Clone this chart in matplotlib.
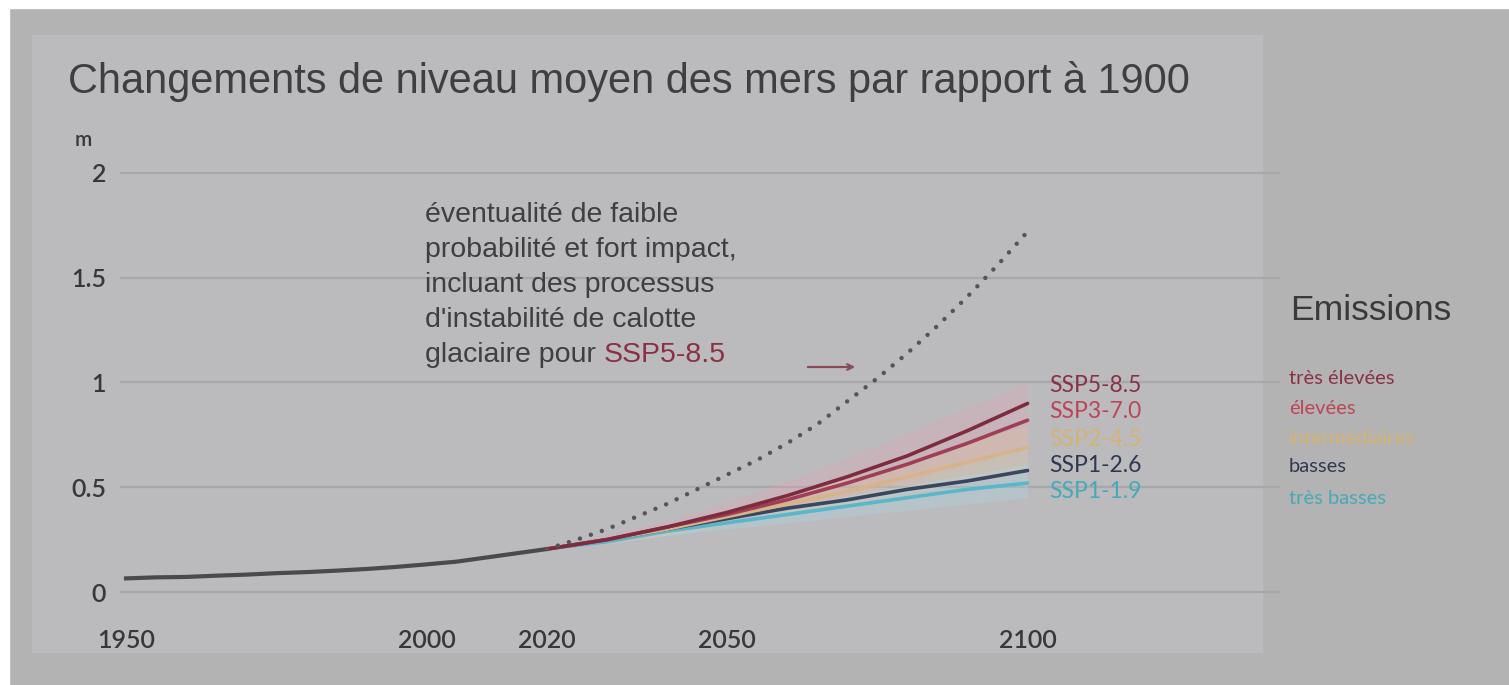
import matplotlib
matplotlib.use('Agg')
import matplotlib.pyplot as plt
from matplotlib.patches import Rectangle

# historical record
hist_years = [1950, 1955, 1960, 1965, 1970, 1975, 1980, 1985, 1990, 1995, 2000, 2005, 2010, 2015, 2020]
hist_vals = [0.065, 0.070, 0.072, 0.078, 0.083, 0.090, 0.095, 0.102, 0.110, 0.120, 0.132, 0.145, 0.165, 0.185, 0.205]

# projections (m, relative to 1900)
proj_years = [2020, 2030, 2040, 2050, 2060, 2070, 2080, 2090, 2100]
ssp585 = [0.205, 0.25, 0.31, 0.38, 0.46, 0.55, 0.65, 0.77, 0.90]
ssp370 = [0.205, 0.25, 0.31, 0.37, 0.44, 0.52, 0.61, 0.71, 0.82]
ssp245 = [0.205, 0.25, 0.30, 0.36, 0.42, 0.48, 0.55, 0.62, 0.69]
ssp126 = [0.205, 0.25, 0.30, 0.35, 0.40, 0.44, 0.49, 0.53, 0.58]
ssp119 = [0.205, 0.24, 0.29, 0.33, 0.37, 0.41, 0.45, 0.49, 0.52]
ssp585_lo = [0.205, 0.23, 0.28, 0.33, 0.39, 0.46, 0.53, 0.61, 0.70]
ssp585_hi = [0.205, 0.27, 0.34, 0.43, 0.53, 0.64, 0.76, 0.88, 1.00]
ssp245_lo = [0.205, 0.23, 0.27, 0.32, 0.37, 0.42, 0.47, 0.52, 0.57]
ssp245_hi = [0.205, 0.26, 0.32, 0.39, 0.46, 0.54, 0.62, 0.71, 0.80]
ssp119_lo = [0.205, 0.23, 0.27, 0.30, 0.33, 0.36, 0.39, 0.42, 0.45]
ssp119_hi = [0.205, 0.25, 0.31, 0.36, 0.41, 0.46, 0.51, 0.56, 0.61]

# low-likelihood high-impact storyline for SSP5-8.5
lhi_years = [2020, 2025, 2030, 2035, 2040, 2045, 2050, 2055, 2060, 2065, 2070, 2075, 2080, 2085, 2090, 2095, 2100]
lhi_vals = [0.205, 0.25, 0.30, 0.36, 0.42, 0.49, 0.56, 0.63, 0.71, 0.80, 0.91, 1.02, 1.14, 1.27, 1.41, 1.56, 1.72]

scen_names = ['SSP5-8.5', 'SSP3-7.0', 'SSP2-4.5', 'SSP1-2.6', 'SSP1-1.9']
scen_labels = ['très élevées', 'élevées', 'intermédiaires', 'basses', 'très basses']
line_colors = ['#7e2b40', '#a03e55', '#d6b48a', '#3a4560', '#5ab6c9']
text_colors = ['#8a3045', '#bd4457', '#d4b373', '#2e3850', '#46a9ba']

x_ticks = [1950, 2000, 2020, 2050, 2100]
y_ticks = [0, 0.5, 1, 1.5, 2]
y_ticklabels = ['0', '0.5', '1', '1.5', '2']

W, H = 1509, 685
fig = plt.figure(figsize=(W / 100, H / 100), dpi=100)
fig.patch.set_facecolor('#b3b3b3')


def fx(px):
    return px / W


def fy(py):
    return 1 - py / H


# white photo edges and the lighter slide panel (behind the axes)
fig.patches.append(Rectangle((0, fy(8)), 1, 8 / H, transform=fig.transFigure, color='white', zorder=-10))
fig.patches.append(Rectangle((0, 0), fx(9), 1, transform=fig.transFigure, color='white', zorder=-10))
fig.patches.append(Rectangle((fx(32), fy(652)), fx(1262 - 32), (652 - 35) / H,
                             transform=fig.transFigure, color='#bbbbbe', zorder=-10))

ax = fig.add_axes([fx(120), fy(602.5), fx(1160), (602.5 - 162.5) / H])
ax.set_facecolor('none')
ax.set_xlim(1949, 2142)
ax.set_ylim(-0.05, 2.05)
for s in ax.spines.values():
    s.set_visible(False)

for v in y_ticks:
    ax.axhline(v, color='#a8a8ac', lw=1.6, zorder=1)

ax.fill_between(proj_years, ssp585_lo, ssp585_hi, color='#e8a0b0', alpha=0.28, lw=0, zorder=2)
ax.fill_between(proj_years, ssp245_lo, ssp245_hi, color='#e8c8a0', alpha=0.28, lw=0, zorder=2)
ax.fill_between(proj_years, ssp119_lo, ssp119_hi, color='#a8e0ee', alpha=0.25, lw=0, zorder=2)

series = [ssp119, ssp126, ssp245, ssp370, ssp585]
cols = line_colors[::-1]
for vals, c in zip(series, cols):
    ax.plot(proj_years, vals, color=c, lw=2.6, zorder=3, solid_capstyle='round')

ax.plot(hist_years, hist_vals, color='#4a4a4c', lw=3, zorder=4)
ax.plot(lhi_years, lhi_vals, color='#555558', lw=3.2, linestyle=(0, (0.01, 2.6)),
        dash_capstyle='round', zorder=4)

tick_font = ['Lato', 'DejaVu Sans']
sans = ['Liberation Sans', 'DejaVu Sans']
ax.set_xticks(x_ticks)
ax.set_xticklabels([str(t) for t in x_ticks], fontsize=18, family=tick_font,
                   weight='semibold', color='#38383a')
ax.set_yticks(y_ticks)
ax.set_yticklabels(y_ticklabels, fontsize=18, family=tick_font, weight='semibold', color='#38383a')
ax.tick_params(axis='x', length=0, pad=19)
ax.tick_params(axis='y', length=0, pad=10)

fig.text(fx(75), fy(140), 'm', fontsize=15, family=tick_font, weight='semibold',
         color='#38383a', va='center')

fig.text(fx(68), fy(82), 'Changements de niveau moyen des mers par rapport à 1900',
         fontsize=29.9, family=sans, color='#3f3f42', va='center')

note_lines = ['éventualité de faible', 'probabilité et fort impact,', 'incluant des processus',
              "d'instabilité de calotte"]
for i, line in enumerate(note_lines):
    fig.text(fx(425), fy(215 + 35 * i), line, fontsize=20.5,
             family=sans, color='#3f3f42', va='center')
last = fig.text(fx(425), fy(355), 'glaciaire pour ', fontsize=20.5,
                family=sans, color='#3f3f42', va='center')
ax.annotate('SSP5-8.5', xy=(1, 0.5), xycoords=last, va='center', ha='left',
            fontsize=20.5, family=sans, color='#8a3045', annotation_clip=False)
ax.annotate('', xy=(fx(858), fy(367)), xytext=(fx(805), fy(367)), xycoords='figure fraction',
            arrowprops=dict(arrowstyle='->', color='#8a4a58', lw=1.6), annotation_clip=False)

label_y = [386, 411, 440, 466, 492]
for name, yy, c in zip(scen_names, label_y, text_colors):
    fig.text(fx(1049), fy(yy), name, fontsize=16.5, family=tick_font, color=c, va='center')

fig.text(fx(1290), fy(310), 'Emissions', fontsize=25.5, family=sans, color='#3a3a3c', va='center')
legend_y = [378, 409, 438, 467, 499]
for lab, yy, c in zip(scen_labels, legend_y, text_colors):
    fig.text(fx(1289), fy(yy), lab, fontsize=14.5, family=tick_font, color=c, va='center')

fig.savefig('out.png', dpi=100, facecolor=fig.get_facecolor())
